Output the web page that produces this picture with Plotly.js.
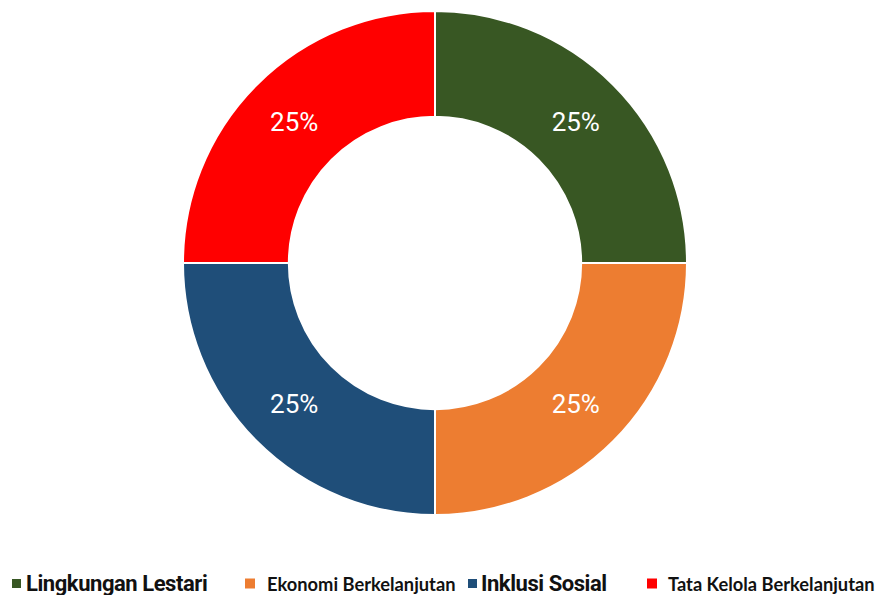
<!DOCTYPE html>
<html>
<head>
<meta charset="utf-8">
<script src="https://cdn.plot.ly/plotly-3.0.1.min.js"></script>
<style>html,body{margin:0;padding:0;background:#fff;}</style>
</head>
<body>
<div id="chart" style="width:877px;height:595px;"></div>
<script>
// ---- data ----
const categories = ["Lingkungan Lestari", "Ekonomi Berkelanjutan", "Inklusi Sosial", "Tata Kelola Berkelanjutan"];
const values = [25, 25, 25, 25];
const colors = ["#385723", "#ED7D31", "#1F4E79", "#FF0000"];

// ---- layout constants (pixels) ----
const W = 877, H = 595;
const M = {l: 0, r: 7, t: 11, b: 80};
const plotW = W - M.l - M.r, plotH = H - M.t - M.b;
const px2x = p => (p - M.l) / plotW;
const py2y = p => (H - M.b - p) / plotH;

// legend entries (custom, to mimic the mixed-font legend of the original)
const legendFonts = [
  {family: 'Roboto', size: 22, weight: 'bold', ls: '-0.45px'},
  {family: 'Lato', size: 18.3, weight: 'bold', ls: '0px'},
  {family: 'Roboto', size: 22, weight: 'bold', ls: '-0.45px'},
  {family: 'Lato', size: 18.3, weight: 'bold', ls: '0px'}
];
const swatchX = [12, 245, 468, 647];
const swatchSize = [9, 10, 9, 10];
const textX = [26, 267, 481, 668];
const legendMidY = 583.5;

const trace = {
  type: 'pie',
  labels: categories,
  values: values,
  hole: 0.58,
  sort: false,
  direction: 'clockwise',
  rotation: 0,
  marker: {colors: colors, line: {color: '#ffffff', width: 2}},
  textinfo: 'percent',
  texttemplate: '%{percent:.0%}',
  textposition: 'inside',
  insidetextorientation: 'horizontal',
  insidetextfont: {family: 'Roboto', size: 26, color: '#ffffff'},
  hoverinfo: 'label+percent',
  showlegend: false
};

const shapes = categories.map((c, i) => ({
  type: 'rect', xref: 'paper', yref: 'paper',
  x0: px2x(swatchX[i]), x1: px2x(swatchX[i] + swatchSize[i]),
  y0: py2y(legendMidY + swatchSize[i] / 2), y1: py2y(legendMidY - swatchSize[i] / 2),
  fillcolor: colors[i], line: {width: 0}
}));

const annotations = categories.map((c, i) => {
  const f = legendFonts[i];
  return {
    xref: 'paper', yref: 'paper',
    x: px2x(textX[i]), y: py2y(legendMidY),
    xanchor: 'left', yanchor: 'middle',
    showarrow: false, borderpad: 0, borderwidth: 0,
    text: '<span style="letter-spacing:' + f.ls + '">' + c + '</span>',
    font: {family: f.family, size: f.size, weight: f.weight, color: '#111111'}
  };
});

const layout = {
  width: W,
  height: H,
  margin: {l: M.l, r: M.r, t: M.t, b: M.b, autoexpand: false},
  paper_bgcolor: '#ffffff',
  plot_bgcolor: '#ffffff',
  showlegend: false,
  shapes: shapes,
  annotations: annotations
};

Plotly.newPlot('chart', [trace], layout, {displayModeBar: false, staticPlot: true});
</script>
</body>
</html>
